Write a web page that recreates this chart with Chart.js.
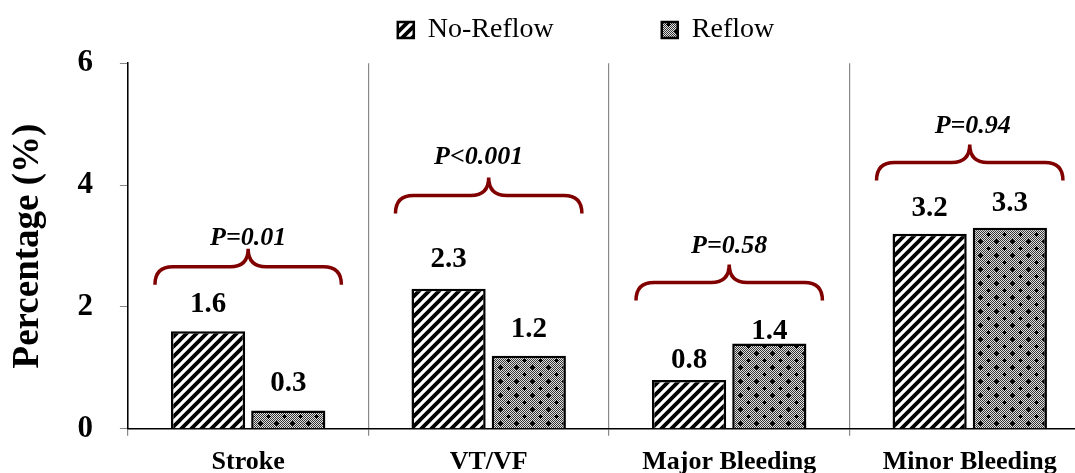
<!DOCTYPE html>
<html>
<head>
<meta charset="utf-8">
<script src="https://cdn.jsdelivr.net/npm/chart.js@4.4.1/dist/chart.umd.min.js"></script>
<style>
  html, body { margin: 0; padding: 0; background: #fff; overflow: hidden; }
  #wrap { width: 1075px; height: 473px; overflow: hidden; }
</style>
</head>
<body>
<div id="wrap"><canvas id="bar-chart" width="1090" height="489"></canvas></div>
<script>
const categorias = ['Stroke', 'VT/VF', 'Major Bleeding', 'Minor Bleeding']
const noReflow = [1.6, 2.3, 0.8, 3.2]
const reflow = [0.3, 1.2, 1.4, 3.3]
const pValores = ['P=0.01', 'P<0.001', 'P=0.58', 'P=0.94']
// height of the brace line, in axis units
const nivelChave = [2.66, 3.83, 2.40, 4.37]
const yTicks = [0, 2, 4, 6]

Chart.defaults.font.family = '"Liberation Serif", "Times New Roman", serif'
Chart.defaults.color = '#000'

// diagonal stripes
function listras() {
    const c = document.createElement('canvas')
    c.width = 10; c.height = 10
    const g = c.getContext('2d')
    g.fillStyle = '#fff'
    g.fillRect(0, 0, 10, 10)
    g.strokeStyle = '#000'
    g.lineWidth = 3.8
    g.beginPath()
    for (let k = -1; k <= 1; k++) {
        g.moveTo(k * 10 - 2, 12)
        g.lineTo(k * 10 + 12, -2)
    }
    g.stroke()
    return g.createPattern(c, 'repeat')
}

// grey checker with small black dots
function pontos() {
    const c = document.createElement('canvas')
    c.width = 16; c.height = 14
    const g = c.getContext('2d')
    for (let x = 0; x < 16; x++) {
        for (let y = 0; y < 14; y++) {
            g.fillStyle = (x + y) % 2 ? '#e0e0e0' : '#363636'
            g.fillRect(x, y, 1, 1)
        }
    }
    g.fillStyle = '#000'
    ;[[4, 3], [12, 10]].forEach(([x, y]) => {
        g.fillRect(x - 2, y, 5, 1)
        g.fillRect(x, y - 2, 1, 5)
        g.fillRect(x - 1, y - 1, 3, 3)
    })
    return g.createPattern(c, 'repeat')
}

// gap (px) between bar top and its value, as placed in the original
const folgaRotulo = [[19, 20], [22, 19], [12, 4], [18, 17]]

const rotulos = {
    id: 'rotulos',
    afterDatasetsDraw(chart) {
        const ctx = chart.ctx
        ctx.save()
        ctx.font = 'bold 29px "Liberation Serif"'
        ctx.fillStyle = '#000'
        ctx.textAlign = 'center'
        ctx.textBaseline = 'alphabetic'
        chart.data.datasets.forEach((ds, i) => {
            chart.getDatasetMeta(i).data.forEach((bar, j) => {
                ctx.fillText(ds.data[j].toFixed(1), bar.x, bar.y - folgaRotulo[j][i])
            })
        })
        ctx.restore()
    }
}

// lift of the P label above the brace tip, and small sideways nudge
const subidaP = [10, 20, 18, 18]
const desvioP = [0, -10, 0, 3]

const chaves = {
    id: 'chaves',
    afterDatasetsDraw(chart) {
        const ctx = chart.ctx
        const y = chart.scales.y
        const m0 = chart.getDatasetMeta(0).data
        const m1 = chart.getDatasetMeta(1).data
        ctx.save()
        nivelChave.forEach((nivel, j) => {
            const x1 = m0[j].x - m0[j].width / 2 - 16
            const x2 = m1[j].x + m1[j].width / 2 + 16
            const xc = (x1 + x2) / 2
            const yh = y.getPixelForValue(nivel)
            const h = 18, r = 18
            ctx.strokeStyle = '#800000'
            ctx.lineWidth = 3.5
            ctx.beginPath()
            ctx.moveTo(x1, yh + h)
            ctx.quadraticCurveTo(x1, yh, x1 + r, yh)
            ctx.lineTo(xc - r, yh)
            ctx.quadraticCurveTo(xc, yh, xc, yh - h)
            ctx.quadraticCurveTo(xc, yh, xc + r, yh)
            ctx.lineTo(x2 - r, yh)
            ctx.quadraticCurveTo(x2, yh, x2, yh + h)
            ctx.stroke()
            ctx.font = 'italic bold 26px "Liberation Serif"'
            ctx.fillStyle = '#000'
            ctx.textAlign = 'center'
            ctx.fillText(pValores[j], xc + desvioP[j], yh - h - subidaP[j])
        })
        ctx.restore()
    }
}

// move legend block to the right, like the original
const legendaDesloc = {
    id: 'legendaDesloc',
    afterLayout(chart) {
        chart.legend.left += 41
        chart.legend.right += 41
    }
}

new Chart(document.getElementById('bar-chart'), {
    type: 'bar',
    data: {
        labels: categorias,
        datasets: [
            {
                label: 'No-Reflow',
                data: noReflow,
                backgroundColor: listras(),
                borderColor: '#000',
                borderWidth: 2.5
            },
            {
                label: 'Reflow',
                data: reflow,
                backgroundColor: pontos(),
                borderColor: '#000',
                borderWidth: 2.5
            }
        ]
    },
    options: {
        responsive: false,
        animation: false,
        categoryPercentage: 0.667,
        barPercentage: 0.925,
        layout: { padding: { top: 6, right: 0, bottom: 0, left: 0 } },
        plugins: {
            tooltip: { enabled: false },
            // empty title used as a spacer between legend and plot
            title: { display: true, text: '', weight: 500, padding: { top: 0, bottom: 8 }, font: { size: 1 } },
            legend: {
                position: 'top',
                labels: {
                    boxWidth: 16,
                    boxHeight: 16,
                    padding: 10,
                    font: { size: 28 },
                    color: '#000',
                    generateLabels(chart) {
                        const itens = Chart.defaults.plugins.legend.labels.generateLabels(chart)
                        itens[0].text = itens[0].text + '\u0020'.repeat(14)
                        return itens
                    }
                }
            }
        },
        scales: {
            x: {
                grid: { offset: true, color: '#888', tickLength: 7, lineWidth: 1.2 },
                border: { color: '#000', width: 1.5 },
                ticks: { font: { size: 26, weight: 'bold' }, color: '#000', padding: 11 }
            },
            y: {
                min: 0,
                max: 6,
                afterBuildTicks(axis) { axis.ticks = yTicks.map(v => ({ value: v })) },
                grid: { drawOnChartArea: false, color: '#888', tickLength: 8 },
                border: { color: '#000', width: 1.5 },
                ticks: { font: { size: 31, weight: 'bold' }, color: '#000', padding: 27 },
                title: {
                    display: true,
                    text: 'Percentage (%)',
                    font: { size: 37, weight: 'bold' },
                    color: '#000',
                    padding: { top: 6, bottom: 0 }
                }
            }
        }
    },
    plugins: [rotulos, chaves, legendaDesloc]
})
</script>
</body>
</html>
